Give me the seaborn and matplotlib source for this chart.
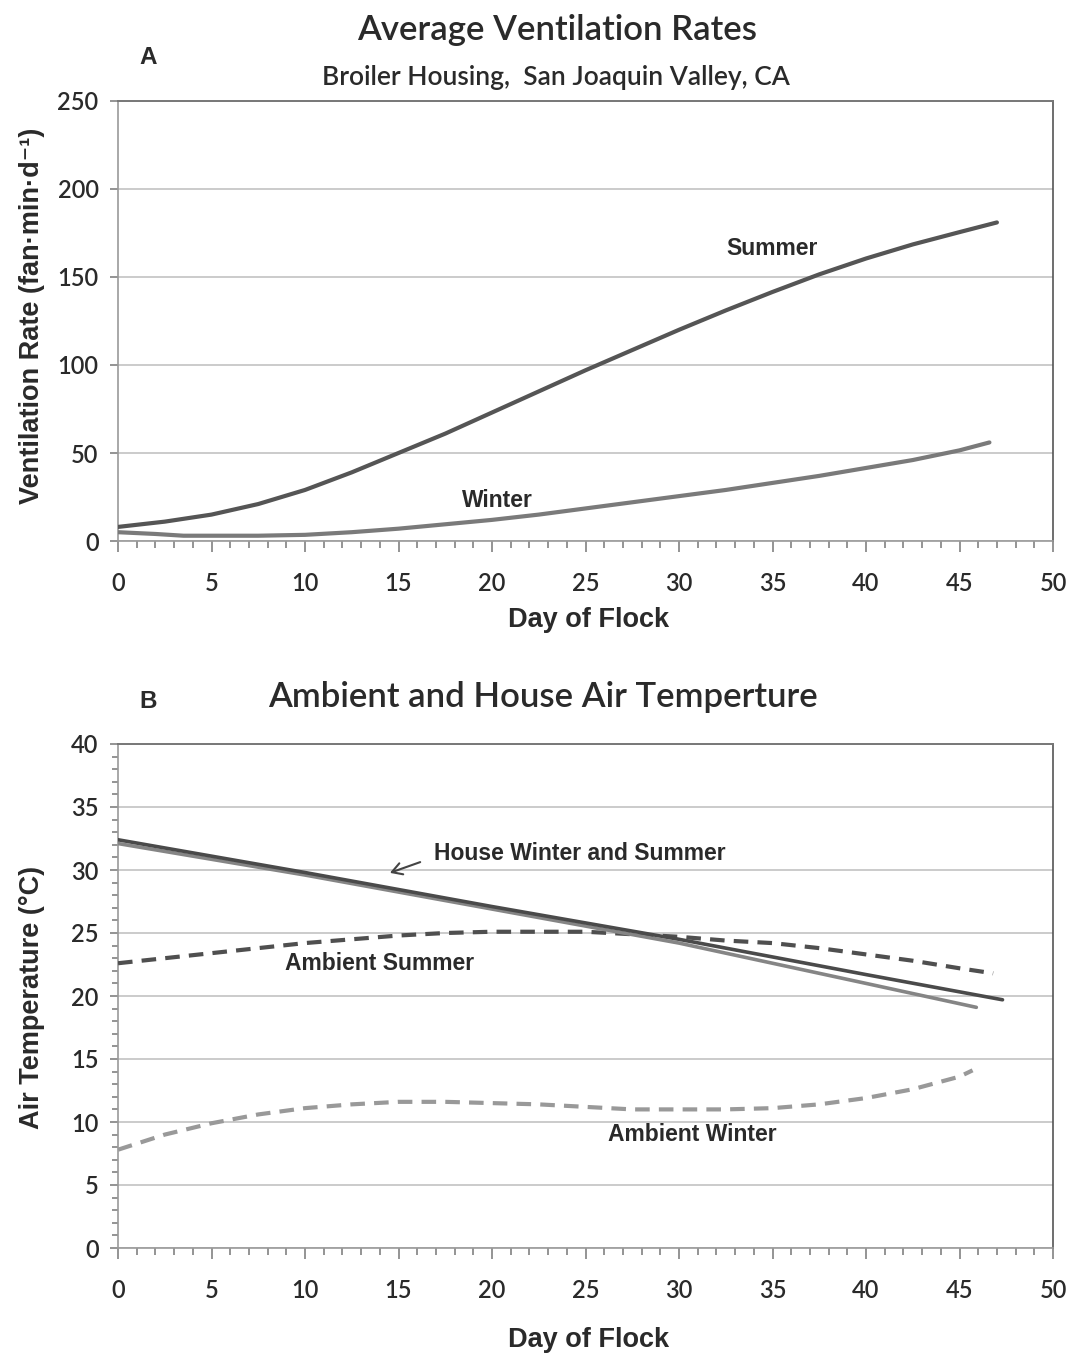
import numpy as np
import pandas as pd
import matplotlib
matplotlib.use("Agg")
import matplotlib.pyplot as plt
from matplotlib.ticker import MultipleLocator
import seaborn as sns

# ---------------- data ----------------
# Panel A: ventilation rate (fan·min·d-1)
vent_summer_day = [0, 2.5, 5, 7.5, 10, 12.5, 15, 17.5, 20, 22.5, 25, 27.5, 30, 32.5, 35, 37.5, 40, 42.5, 45, 47]
vent_summer_val = [8, 11, 15, 21, 29, 39, 50, 61, 73, 85, 97, 108.5, 120, 131, 141.5, 151.5, 160.5, 168.5, 175.5, 181]
vent_winter_day = [0, 2, 3.5, 5, 7.5, 10, 12.5, 15, 17.5, 20, 22.5, 25, 27.5, 30, 32.5, 35, 37.5, 40, 42.5, 45, 46.6]
vent_winter_val = [5, 4, 3, 3, 3, 3.5, 5, 7, 9.5, 12, 15, 18.5, 22, 25.5, 29, 33, 37, 41.5, 46, 51.5, 56]

# Panel B: air temperature (°C)
house_summer_day = [0, 10, 20, 30, 40, 47.3]
house_summer_val = [32.4, 29.8, 27.1, 24.5, 21.7, 19.7]
house_winter_day = [0, 10, 20, 30, 40, 45.9]
house_winter_val = [32.1, 29.6, 26.9, 24.2, 21.0, 19.1]
amb_summer_day = [0, 2.5, 5, 7.5, 10, 12.5, 15, 17.5, 20, 22.5, 25, 27.5, 30, 32.5, 35, 37.5, 40, 42.5, 45, 46.8]
amb_summer_val = [22.6, 23.0, 23.4, 23.8, 24.2, 24.5, 24.8, 25.0, 25.1, 25.1, 25.1, 24.9, 24.7, 24.4, 24.2, 23.8, 23.3, 22.8, 22.2, 21.8]
amb_winter_day = [0, 2.5, 5, 7.5, 10, 12.5, 15, 17.5, 20, 22.5, 25, 27.5, 30, 32.5, 35, 37.5, 40, 42.5, 45, 45.7]
amb_winter_val = [7.8, 9.0, 9.9, 10.6, 11.1, 11.4, 11.6, 11.6, 11.5, 11.4, 11.2, 11.0, 11.0, 11.0, 11.1, 11.4, 11.9, 12.6, 13.6, 14.1]

x_ticks = [0, 5, 10, 15, 20, 25, 30, 35, 40, 45, 50]
a_yticks = [0, 50, 100, 150, 200, 250]
b_yticks = [0, 5, 10, 15, 20, 25, 30, 35, 40]

# ---------------- style ----------------
sns.set_theme(style="white")
tick_font = "Lato"
title_font = "Lato"
bold_font = ["Liberation Sans", "DejaVu Sans"]
plt.rcParams["font.family"] = ["Liberation Sans", "DejaVu Sans"]

W, H = 1070, 1356
fig = plt.figure(figsize=(W / 100, H / 100), dpi=100)

def ax_rect(l, t, r, b):
    return [l / W, 1 - b / H, (r - l) / W, (b - t) / H]

axA = fig.add_axes(ax_rect(118, 101, 1053, 541))
axB = fig.add_axes(ax_rect(118, 744, 1053, 1248))

dark = "#555555"
mid = "#7a7a7a"

dfA_s = pd.DataFrame({"day": vent_summer_day, "val": vent_summer_val})
dfA_w = pd.DataFrame({"day": vent_winter_day, "val": vent_winter_val})
sns.lineplot(data=dfA_s, x="day", y="val", ax=axA, color=dark, lw=3.0, zorder=3)
sns.lineplot(data=dfA_w, x="day", y="val", ax=axA, color=mid, lw=3.0, zorder=3)

dfB_hs = pd.DataFrame({"day": house_summer_day, "val": house_summer_val})
dfB_hw = pd.DataFrame({"day": house_winter_day, "val": house_winter_val})
dfB_as = pd.DataFrame({"day": amb_summer_day, "val": amb_summer_val})
dfB_aw = pd.DataFrame({"day": amb_winter_day, "val": amb_winter_val})
sns.lineplot(data=dfB_as, x="day", y="val", ax=axB, color="#4f4f4f", lw=3.0, zorder=3)
axB.lines[-1].set_dashes([3.5, 2.2])
axB.lines[-1].set_dash_capstyle("butt")
sns.lineplot(data=dfB_aw, x="day", y="val", ax=axB, color="#999999", lw=3.0, zorder=3)
axB.lines[-1].set_dashes([3.5, 2.2])
axB.lines[-1].set_dash_capstyle("butt")
sns.lineplot(data=dfB_hw, x="day", y="val", ax=axB, color="#858585", lw=2.6, zorder=4)
sns.lineplot(data=dfB_hs, x="day", y="val", ax=axB, color="#4a4a4a", lw=2.6, zorder=5)

def style_axis(ax, yticks, ymax, yminor, xlab_y):
    ax.set_xlim(0, 50)
    ax.set_ylim(0, ymax)
    ax.set_xticks(x_ticks)
    ax.set_yticks(yticks)
    ax.xaxis.set_minor_locator(MultipleLocator(1))
    if yminor:
        ax.yaxis.set_minor_locator(MultipleLocator(1))
    ax.grid(axis="y", color="#bdbdbd", lw=1.1, zorder=0)
    ax.grid(axis="x", visible=False)
    for s in ["left", "bottom"]:
        ax.spines[s].set_color("#9a9a9a")
        ax.spines[s].set_linewidth(1.2)
    ax.spines["right"].set_color("#555555")
    ax.spines["right"].set_linewidth(1.2)
    ax.spines["top"].set_color("#777777")
    ax.spines["top"].set_linewidth(1.4)
    ax.tick_params(axis="x", which="major", direction="out", length=8, width=1.1,
                   color="#777777", pad=14, labelsize=17, bottom=True)
    ax.tick_params(axis="x", which="minor", direction="out", length=5, width=1.1,
                   color="#777777", bottom=True)
    ax.tick_params(axis="y", which="major", direction="out", length=6, width=1.1,
                   color="#777777", pad=8, labelsize=17, left=True)
    ax.tick_params(axis="y", which="minor", direction="out", length=4, width=1.1,
                   color="#777777", left=True)
    for lab in ax.get_xticklabels() + ax.get_yticklabels():
        lab.set_fontfamily(tick_font)
        lab.set_fontweight("semibold")
        lab.set_color("#2a2a2a")
    ax.set_xlabel("Day of Flock", fontsize=19.5, fontweight="bold", family=bold_font,
                  color="#2a2a2a", va="center")
    ax.xaxis.set_label_coords(0.503, xlab_y)

style_axis(axA, a_yticks, 250, False, -0.18)
style_axis(axB, b_yticks, 40, True, -0.183)

axA.set_ylabel("Ventilation Rate (fan·min·d⁻¹)", fontsize=19.5, fontweight="bold",
               family=bold_font, color="#2a2a2a", va="center")
axA.yaxis.set_label_coords(-0.092, 0.511)
axB.set_ylabel("Air Temperature (°C)", fontsize=19.5, fontweight="bold",
               family=bold_font, color="#2a2a2a", va="center")
axB.yaxis.set_label_coords(-0.092, 0.498)

# annotations
ann = dict(fontsize=16.5, fontweight="bold", family=bold_font, color="#2a2a2a",
           ha="center", va="center")
axA.text(35.0, 166, "Summer", **ann)
axA.text(20.3, 23, "Winter", **ann)
axB.text(24.7, 31.3, "House Winter and Summer", **ann)
axB.annotate("", xy=(14.4, 29.7), xytext=(16.3, 30.7),
             arrowprops=dict(arrowstyle="->,head_length=0.6,head_width=0.35",
                             color="#444444", lw=1.5))
axB.text(14.0, 22.6, "Ambient Summer", **ann)
axB.text(30.7, 9.0, "Ambient Winter", **ann)

# titles and panel letters
fig.text(557 / W, 1 - 30 / H, "Average Ventilation Rates", fontsize=25, fontweight="semibold",
         family=title_font, color="#2a2a2a", ha="center", va="center")
fig.text(556 / W, 1 - 78 / H, "Broiler Housing,  San Joaquin Valley, CA", fontsize=19,
         fontweight="semibold", family=title_font, color="#2a2a2a", ha="center", va="center")
fig.text(543 / W, 1 - 697 / H, "Ambient and House Air Temperture", fontsize=25,
         fontweight="semibold", family=title_font, color="#2a2a2a", ha="center", va="center")
fig.text(148 / W, 1 - 58 / H, "A", fontsize=17.5, fontweight="bold", family=bold_font,
         color="#2a2a2a", ha="center", va="center")
fig.text(148 / W, 1 - 702 / H, "B", fontsize=17.5, fontweight="bold", family=bold_font,
         color="#2a2a2a", ha="center", va="center")

fig.savefig("out.png", dpi=100, facecolor="white")
